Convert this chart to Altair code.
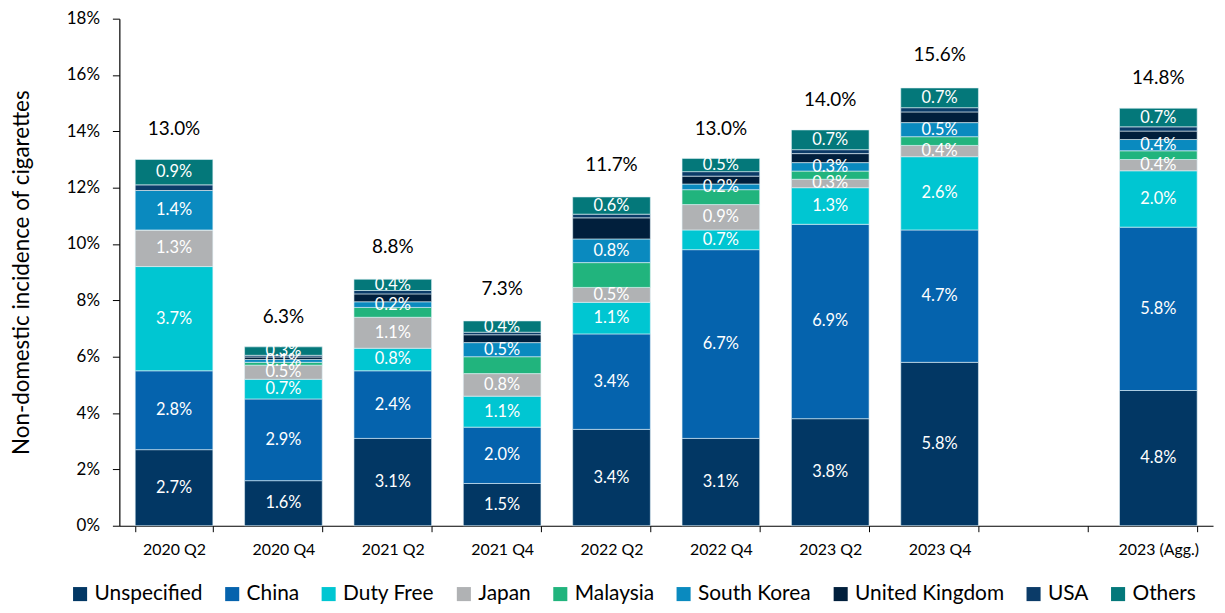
import altair as alt
import pandas as pd

periods = ["2020 Q2", "2020 Q4", "2021 Q2", "2021 Q4", "2022 Q2",
           "2022 Q4", "2023 Q2", "2023 Q4", "2023 (Agg.)"]
axis_domain = periods[:8] + [" "] + periods[8:]

series_names = ["Unspecified", "China", "Duty Free", "Japan", "Malaysia",
                "South Korea", "United Kingdom", "USA", "Others"]

unspecified = [2.7, 1.6, 3.1, 1.5, 3.42, 3.1, 3.8, 5.8, 4.8]
china = [2.8, 2.9, 2.4, 2.0, 3.39, 6.7, 6.9, 4.7, 5.8]
duty_free = [3.7, 0.7, 0.8, 1.1, 1.12, 0.7, 1.3, 2.6, 2.0]
japan = [1.3, 0.5, 1.1, 0.8, 0.53, 0.9, 0.3, 0.4, 0.4]
malaysia = [0.0, 0.1, 0.35, 0.6, 0.88, 0.53, 0.29, 0.31, 0.31]
south_korea = [1.4, 0.1, 0.2, 0.5, 0.84, 0.2, 0.3, 0.5, 0.4]
united_kingdom = [0.0, 0.09, 0.28, 0.28, 0.75, 0.28, 0.32, 0.38, 0.3]
usa = [0.2, 0.06, 0.12, 0.09, 0.13, 0.16, 0.14, 0.15, 0.15]
others = [0.9, 0.3, 0.4, 0.4, 0.61, 0.47, 0.7, 0.7, 0.66]

totals = [13.0, 6.3, 8.8, 7.3, 11.7, 13.0, 14.0, 15.6, 14.8]

colors = ["#023764", "#0563ad", "#00c6d2", "#b0b2b4", "#21b47d",
          "#0a8abf", "#011f3c", "#0b3b68", "#04787a"]
labelled = ["Unspecified", "China", "Duty Free", "Japan", "South Korea", "Others"]

series_values = [unspecified, china, duty_free, japan, malaysia,
                 south_korea, united_kingdom, usa, others]

rows = []
for si, (name, vals) in enumerate(zip(series_names, series_values)):
    for p, v in zip(periods, vals):
        rows.append({"period": p, "series": name, "order": si, "value": v,
                     "show": 1 if name in labelled else 0})
df = pd.DataFrame(rows)
tot_df = pd.DataFrame({"period": periods, "total": totals})

FONT = "Lato"

x_scale = alt.Scale(domain=axis_domain, paddingInner=0.29, paddingOuter=0.145)
x_axis = alt.Axis(title=None, tickBand="extent", labelAngle=0, labelFontSize=16,
                  labelFont=FONT, labelColor="black", labelPadding=10, tickSize=6,
                  domainColor="black", tickColor="black", domainWidth=1.2)
y_scale = alt.Scale(domain=[0, 18], nice=False)
y_axis = alt.Axis(title="Non-domestic incidence of cigarettes", titleFont=FONT,
                  titleFontSize=22.5, titleFontWeight="normal", titleColor="black",
                  titlePadding=33, values=list(range(0, 19, 2)),
                  labelExpr="datum.value + '%'", labelFontSize=17, labelFont=FONT,
                  labelColor="black", labelPadding=13, grid=False, tickSize=7,
                  domainColor="black", tickColor="black", domainWidth=1.2)

base = alt.Chart(df).transform_stack(
    stack="value", groupby=["period"], as_=["v0", "v1"],
    sort=[alt.SortField("order", order="ascending")]
)

bars = base.mark_bar(stroke="#e3f1f6", strokeWidth=0.6).encode(
    x=alt.X("period:N", scale=x_scale, sort=axis_domain, axis=x_axis),
    y=alt.Y("v0:Q", scale=y_scale, axis=y_axis),
    y2="v1:Q",
    color=alt.Color("series:N", scale=alt.Scale(domain=series_names, range=colors),
                    legend=alt.Legend(orient="none", legendX=-50, legendY=568,
                                      direction="horizontal", title=None,
                                      symbolType="square", symbolSize=200,
                                      symbolStrokeWidth=0, labelFontSize=21,
                                      labelFont=FONT, labelColor="black",
                                      columnPadding=19, labelOffset=4)),
)

seg_labels = base.transform_filter("datum.show == 1").transform_calculate(
    mid="(datum.v0 + datum.v1) / 2",
    txt="format(datum.value, '.1f') + '%'"
).mark_text(color="white", fontSize=16.5, font=FONT).encode(
    x=alt.X("period:N", scale=x_scale, sort=axis_domain),
    y=alt.Y("mid:Q", scale=y_scale),
    text="txt:N",
)

tot_labels = alt.Chart(tot_df).transform_calculate(
    txt="format(datum.total, '.1f') + '%'"
).mark_text(color="black", fontSize=19, font=FONT, dy=-31).encode(
    x=alt.X("period:N", scale=x_scale, sort=axis_domain),
    y=alt.Y("total:Q", scale=y_scale),
    text="txt:N",
)

chart = alt.layer(bars, seg_labels, tot_labels).properties(
    width=1100, height=510,
    autosize=alt.AutoSizeParams(type="none"),
    padding={"left": 112, "top": 9, "right": 4, "bottom": 78},
).configure_view(stroke=None)

chart.save("out.html", embed_options={"renderer": "svg", "actions": False})
